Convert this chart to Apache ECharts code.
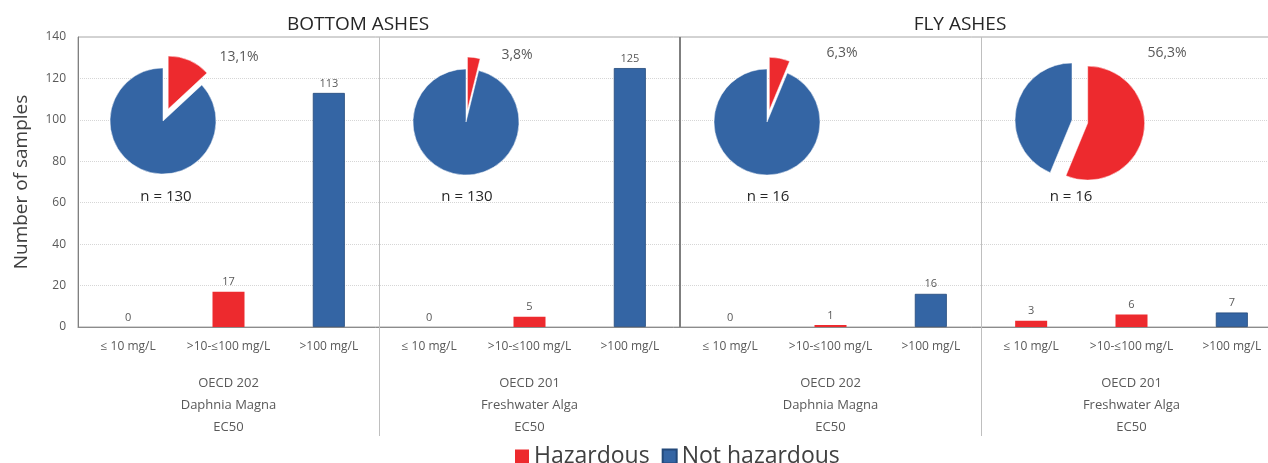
<!DOCTYPE html>
<html>
<head>
<meta charset="utf-8">
<script src="https://cdn.jsdelivr.net/npm/echarts@6/dist/echarts.min.js"></script>
<style>
  html, body { margin: 0; padding: 0; background: #fff; }
  #chart-container { width: 1268px; height: 463px; }
</style>
</head>
<body>
<div id="chart-container"></div>
<script>
// data
var concentrations = ['≤ 10 mg/L', '>10-≤100 mg/L', '>100 mg/L',
  '≤ 10 mg/L', '>10-≤100 mg/L', '>100 mg/L',
  '≤ 10 mg/L', '>10-≤100 mg/L', '>100 mg/L',
  '≤ 10 mg/L', '>10-≤100 mg/L', '>100 mg/L'];
var ashTypes = ['BOTTOM ASHES', 'FLY ASHES'];
var testGroups = ['OECD 202\nDaphnia Magna\nEC50', 'OECD 201\nFreshwater Alga\nEC50',
  'OECD 202\nDaphnia Magna\nEC50', 'OECD 201\nFreshwater Alga\nEC50'];
var hazardous = [0, 17, '-', 0, 5, '-', 0, 1, '-', 3, 6, '-'];
var notHazardous = ['-', '-', 113, '-', '-', 125, '-', '-', 16, '-', '-', 7];
var pieHazardous = [17, 5, 1, 9];
var pieNotHazardous = [113, 125, 15, 7];
var sampleSizes = [130, 130, 16, 16];

var RED = '#ED2A2E';
var BLUE = '#3465A4';
var FONT = 'Open Sans';

// layout of the pies and their texts
var pieCenters = [[163, 121], [466, 122], [767, 122], [1072, 120]];
var pieRadius = [53, 53, 53, 57];
var pieOffset = [13, 12, 12, 16];
var pctPos = [[239, 57], [517, 55], [842, 53], [1167, 53]];
var nPos = [[166, 197], [467, 197], [768, 197], [1071, 197]];

var dom = document.getElementById('chart-container');
var myChart = echarts.init(dom, null, { renderer: 'canvas' });

var series = [
  {
    name: 'Hazardous',
    type: 'bar',
    data: hazardous,
    barWidth: 32,
    barGap: '-100%',
    itemStyle: { color: RED },
    label: { show: true, position: 'top', distance: 4, fontSize: 11, color: '#595959', fontFamily: FONT }
  },
  {
    name: 'Not hazardous',
    type: 'bar',
    data: notHazardous,
    barWidth: 32,
    barGap: '-100%',
    itemStyle: { color: BLUE, borderColor: '#23497a', borderWidth: 0.8 },
    label: { show: true, position: 'top', distance: 4, fontSize: 11, color: '#595959', fontFamily: FONT }
  }
];

var graphics = [];
for (var i = 0; i < 4; i++) {
  series.push({
    type: 'pie',
    center: pieCenters[i],
    radius: pieRadius[i],
    startAngle: 90,
    clockwise: true,
    selectedMode: 'multiple',
    selectedOffset: pieOffset[i],
    silent: true,
    label: { show: false },
    labelLine: { show: false },
    emphasis: { disabled: true },
    itemStyle: { borderColor: '#fff', borderWidth: 0.5 },
    data: [
      { name: 'Hazardous', value: pieHazardous[i], selected: true, itemStyle: { color: RED } },
      { name: 'Not hazardous', value: pieNotHazardous[i], itemStyle: { color: BLUE } }
    ]
  });
  var pct = (pieHazardous[i] / sampleSizes[i] * 100).toFixed(1).replace('.', ',') + '%';
  graphics.push({
    type: 'text', x: pctPos[i][0], y: pctPos[i][1],
    style: { text: pct, fill: '#595959', font: '14px "' + FONT + '"', textAlign: 'center', textVerticalAlign: 'middle' }
  });
  graphics.push({
    type: 'text', x: nPos[i][0], y: nPos[i][1],
    style: { text: 'n = ' + sampleSizes[i], fill: '#262626', font: '15px "' + FONT + '"', textAlign: 'center', textVerticalAlign: 'middle' }
  });
}

var option = {
  animation: false,
  textStyle: { fontFamily: FONT },
  grid: {
    left: 78, width: 1204, top: 37, bottom: 136,
    outerBoundsMode: 'none',
    show: true, borderColor: '#a6a6a6', borderWidth: 1
  },
  legend: {
    data: ['Hazardous', 'Not hazardous'],
    left: 510, top: 440,
    icon: 'rect', itemWidth: 14, itemHeight: 14, itemGap: 12,
    textStyle: { fontSize: 23, color: '#404040', fontFamily: FONT }
  },
  xAxis: [
    {
      type: 'category',
      data: concentrations,
      axisLine: { lineStyle: { color: '#8c8c8c' } },
      axisTick: {
        show: true, length: 109,
        interval: function (idx) { return idx === 3 || idx === 9; },
        lineStyle: { color: '#bfbfbf' }
      },
      axisLabel: { interval: 0, margin: 14, fontSize: 12, color: '#595959', fontFamily: FONT },
      splitLine: {
        show: true,
        interval: function (idx) { return idx === 3 || idx === 9; },
        lineStyle: { color: '#bfbfbf', width: 1 }
      }
    },
    {
      type: 'category',
      position: 'top',
      data: ashTypes,
      axisLine: { show: false },
      axisTick: { show: false },
      axisLabel: { interval: 0, margin: 3, fontSize: 19, color: '#262626', fontFamily: FONT, padding: [0, 42, 0, 0] },
      splitLine: {
        show: true,
        interval: 0,
        lineStyle: { color: ['rgba(0,0,0,0)', '#7f7f7f', 'rgba(0,0,0,0)'], width: 2 }
      }
    },
    {
      type: 'category',
      position: 'bottom',
      data: testGroups,
      axisLine: { show: false },
      axisTick: { show: false },
      axisLabel: { interval: 0, margin: 45, fontSize: 13, lineHeight: 22, color: '#595959', fontFamily: FONT },
      splitLine: { show: false }
    }
  ],
  yAxis: {
    type: 'value',
    min: 0, max: 140, interval: 20,
    name: 'Number of samples',
    nameLocation: 'middle',
    nameGap: 47,
    nameTextStyle: { fontSize: 19, color: '#404040', fontFamily: FONT },
    axisLine: { show: true, lineStyle: { color: '#808080' } },
    axisTick: { show: false },
    axisLabel: { margin: 12, fontSize: 12, color: '#595959', fontFamily: FONT },
    splitLine: { show: true, showMaxLine: false, lineStyle: { color: '#d6d6d6', type: 'dotted' } }
  },
  graphic: graphics,
  series: series
};

myChart.setOption(option);
window.addEventListener('resize', myChart.resize);
</script>
</body>
</html>
